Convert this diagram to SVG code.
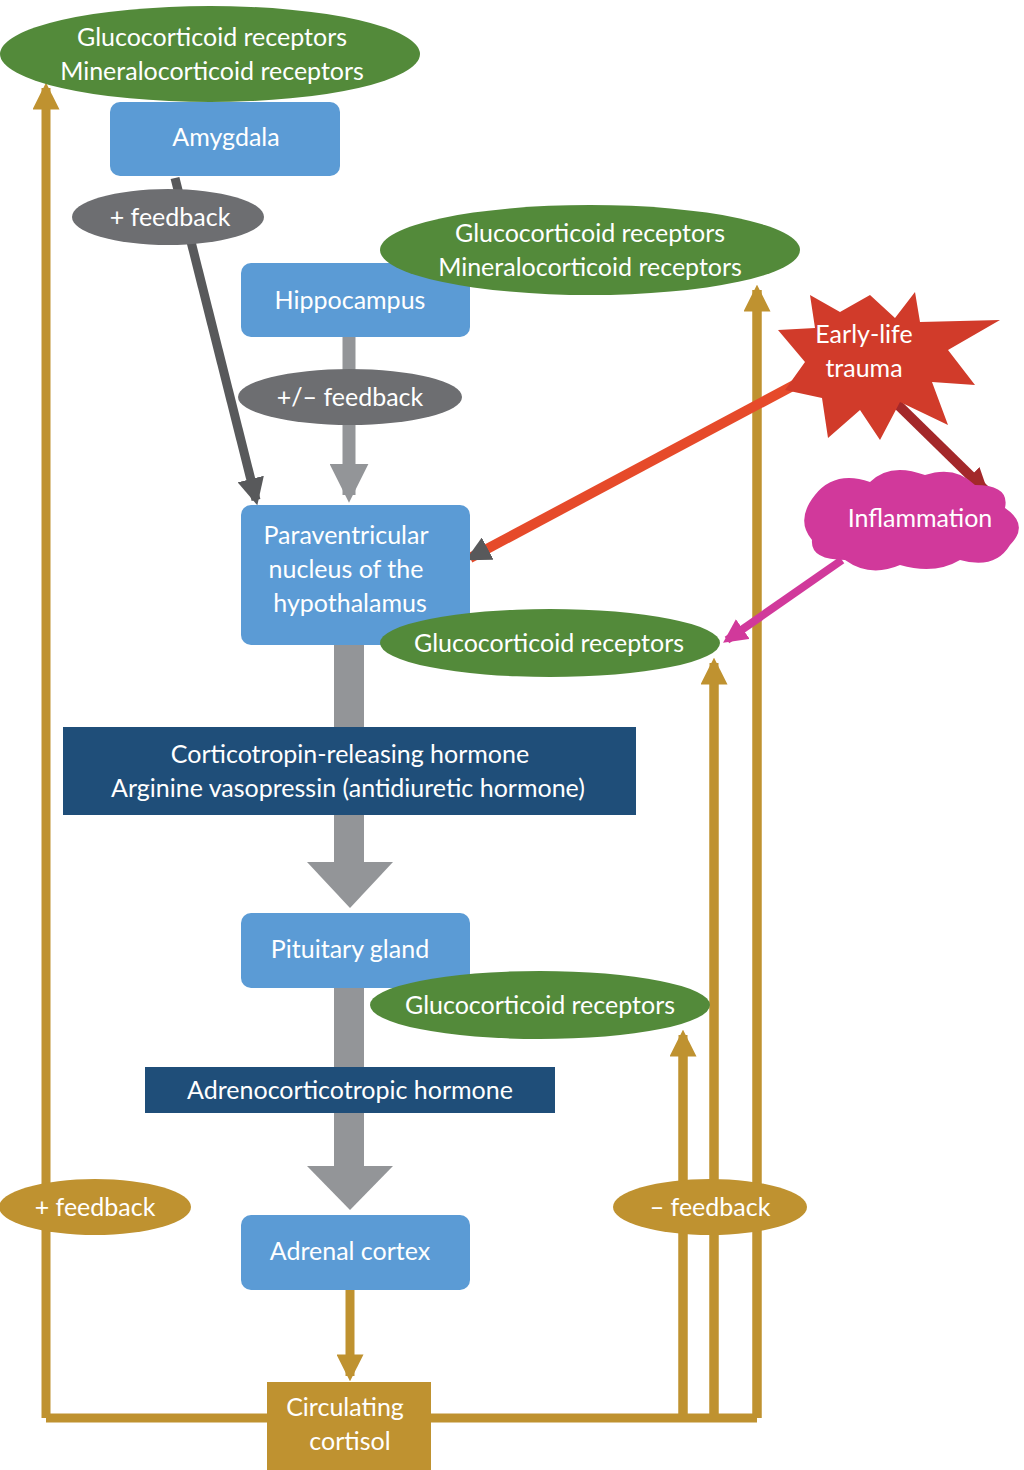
<svg xmlns="http://www.w3.org/2000/svg" width="1024" height="1470" viewBox="0 0 1024 1470">
<style>
text{font-family:Lato,"Liberation Sans",sans-serif;fill:#fff;font-size:25px;text-anchor:middle}
.box{fill:#5b9bd5}
.gr{fill:#538a3a}
.gold{stroke:#bf9230;stroke-width:9;fill:none}
</style>
<defs>
<marker id="ag" viewBox="0 0 10 10" refX="8" refY="5" markerWidth="3" markerHeight="3" orient="auto" markerUnits="strokeWidth"><path d="M0,0L10,5L0,10z" fill="#bf9230"/></marker>
<marker id="adg" viewBox="0 0 10 10" refX="8" refY="5" markerWidth="3" markerHeight="3" orient="auto" markerUnits="strokeWidth"><path d="M0,0L10,5L0,10z" fill="#58595b"/></marker>
<marker id="alg" viewBox="0 0 10 10" refX="8" refY="5" markerWidth="3" markerHeight="3" orient="auto" markerUnits="strokeWidth"><path d="M0,0L10,5L0,10z" fill="#939598"/></marker>
<marker id="aor" viewBox="0 0 10 10" refX="8" refY="5" markerWidth="2.5" markerHeight="2.5" orient="auto" markerUnits="strokeWidth"><path d="M0,0L10,5L0,10z" fill="#58595b"/></marker>
<marker id="adr" viewBox="0 0 10 10" refX="8" refY="5" markerWidth="2.5" markerHeight="2.5" orient="auto" markerUnits="strokeWidth"><path d="M0,0L10,5L0,10z" fill="#a3282a"/></marker>
<marker id="amg" viewBox="0 0 10 10" refX="8" refY="5" markerWidth="3" markerHeight="3" orient="auto" markerUnits="strokeWidth"><path d="M0,0L10,5L0,10z" fill="#d1399b"/></marker>
</defs>
<g id="connectors">
<path class="gold" d="M46,1418V88" marker-end="url(#ag)"/>
<path class="gold" d="M46,1418H757M683,1418V1040M714,1418V668M757,1418V290" />
<path class="gold" d="M683,1418V1035" marker-end="url(#ag)"/>
<path class="gold" d="M714,1418V663" marker-end="url(#ag)"/>
<path class="gold" d="M757,1418V290" marker-end="url(#ag)"/>
<path class="gold" d="M350,1290V1376" marker-end="url(#ag)"/>
<path d="M175,178L256,500" stroke="#58595b" stroke-width="9" marker-end="url(#adg)"/>
<path d="M349,337V495" stroke="#939598" stroke-width="13" marker-end="url(#alg)"/>
<path d="M349,645V870" stroke="#939598" stroke-width="30"/>
<path d="M307,862H393L350,908z" fill="#939598"/>
<path d="M349,988V1170" stroke="#939598" stroke-width="30"/>
<path d="M307,1166H393L350,1210z" fill="#939598"/>
<path d="M800,382L470,558" stroke="#e64a2a" stroke-width="10" marker-end="url(#aor)"/>
<path d="M893,400L985,490" stroke="#a3282a" stroke-width="10" marker-end="url(#adr)"/>
<path d="M842,560L727,640" stroke="#d1399b" stroke-width="8" marker-end="url(#amg)"/>
</g>
<g id="gr1"><ellipse class="gr" cx="210" cy="54" rx="210" ry="48"/><text x="212" y="46">Glucocorticoid receptors</text><text x="212" y="80">Mineralocorticoid receptors</text></g>
<g id="amygdala"><rect class="box" x="110" y="102" width="230" height="74" rx="10"/><text x="226" y="146">Amygdala</text></g>
<g id="fb1"><ellipse cx="168" cy="217" rx="96" ry="28" fill="#6d6e71"/><text x="170" y="226">+ feedback</text></g>
<g id="hippocampus"><rect class="box" x="241" y="263" width="229" height="74" rx="10"/><text x="350" y="309">Hippocampus</text></g>
<g id="gr2"><ellipse class="gr" cx="590" cy="250" rx="210" ry="45"/><text x="590" y="242">Glucocorticoid receptors</text><text x="590" y="276">Mineralocorticoid receptors</text></g>
<g id="fb2"><ellipse cx="350" cy="397" rx="112" ry="28" fill="#6d6e71"/><text x="350" y="406">+/– feedback</text></g>
<g id="pvn"><rect class="box" x="241" y="505" width="229" height="140" rx="10"/><text x="346" y="544">Paraventricular</text><text x="346" y="578">nucleus of the</text><text x="350" y="612">hypothalamus</text></g>
<g id="gr3"><ellipse class="gr" cx="550" cy="643" rx="170" ry="34"/><text x="549" y="652">Glucocorticoid receptors</text></g>
<g id="trauma"><path d="M870,295L895,318L915,292L920,322L1000,320L948,350L975,385L932,382L948,425L900,402L880,440L860,410L828,438L822,398L785,390L805,362L778,330L815,328L810,295L840,312z" fill="#d13b2a"/><text x="864" y="343">Early-life</text><text x="864" y="377">trauma</text></g>
<g id="inflammation"><path d="M815,495Q835,470 870,482Q890,462 925,475Q955,465 975,485Q1010,485 1005,508Q1030,525 1010,545Q995,570 960,560Q935,575 900,565Q870,578 845,560Q810,560 812,540Q795,520 815,495z" fill="#d1399b"/><text x="920" y="527">Inflammation</text></g>
<g id="crh"><rect x="63" y="727" width="573" height="88" fill="#1f4e79"/><text x="350" y="763">Corticotropin-releasing hormone</text><text x="348" y="797">Arginine vasopressin (antidiuretic hormone)</text></g>
<g id="pituitary"><rect class="box" x="241" y="913" width="229" height="75" rx="10"/><text x="350" y="958">Pituitary gland</text></g>
<g id="gr4"><ellipse class="gr" cx="540" cy="1005" rx="170" ry="34"/><text x="540" y="1014">Glucocorticoid receptors</text></g>
<g id="acth"><rect x="145" y="1067" width="410" height="46" fill="#1f4e79"/><text x="350" y="1099">Adrenocorticotropic hormone</text></g>
<g id="fb3"><ellipse cx="95" cy="1207" rx="96" ry="28" fill="#bf9230"/><text x="95" y="1216">+ feedback</text></g>
<g id="fb4"><ellipse cx="710" cy="1207" rx="97" ry="28" fill="#bf9230"/><text x="710" y="1216">– feedback</text></g>
<g id="adrenal"><rect class="box" x="241" y="1215" width="229" height="75" rx="10"/><text x="350" y="1260">Adrenal cortex</text></g>
<g id="cortisol"><rect x="267" y="1382" width="164" height="88" fill="#bf9230"/><text x="345" y="1416">Circulating</text><text x="350" y="1450">cortisol</text></g>
</svg>
